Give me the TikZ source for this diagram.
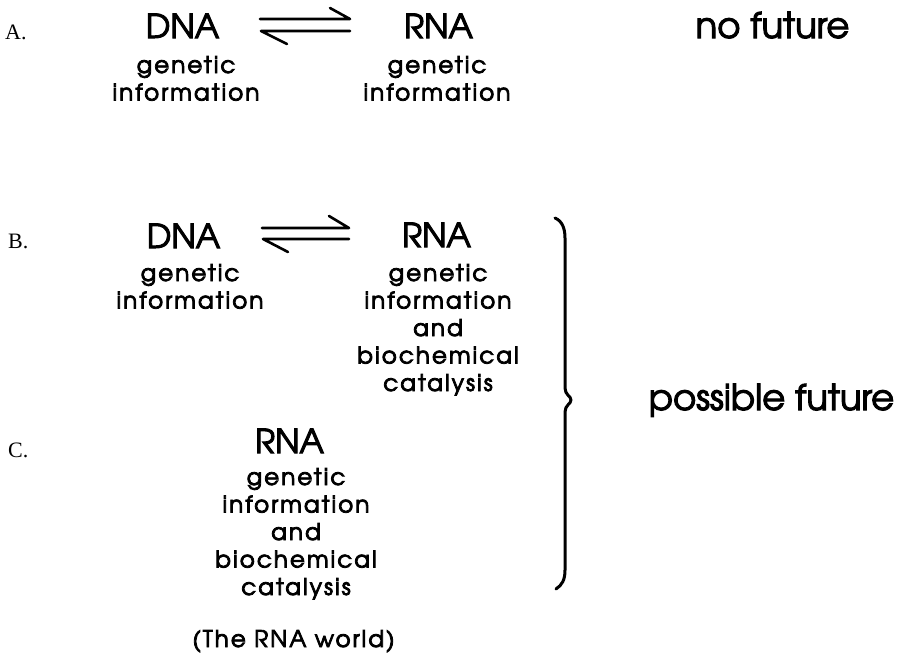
\documentclass[tikz,border=0pt]{standalone}
\usepackage{fontspec}
\setmainfont{texgyreadventor}[Extension=.otf, UprightFont=*-regular, BoldFont=*-bold]
\newfontfamily\seriflabel{Liberation Serif}
\begin{document}
\begin{tikzpicture}[x=1pt,y=-1pt,
  big/.style={font=\fontsize{33}{33}\selectfont\addfontfeature{FakeBold=3}, inner sep=0pt, anchor=base},
  desc/.style={font=\fontsize{23}{27.5}\selectfont\addfontfeature{LetterSpace=9,FakeBold=3.5}, align=center, inner sep=0pt, anchor=base},
  rowlabel/.style={font=\seriflabel\fontsize{22}{22}\selectfont, inner sep=0pt, anchor=base west},
  side/.style={font=\fontsize{35.5}{35.5}\selectfont\addfontfeature{FakeBold=3}, inner sep=0pt, anchor=base},
  eq/.style={line width=2.6pt, line cap=round, line join=round},
  bracestyle/.style={line width=3pt, line cap=round, line join=round}]
\useasboundingbox[fill=white] (0,0) rectangle (904,662);
% ---- A ----
\node[rowlabel] (labA) at (5,39) {A.};
\node[big] (dnaA) at (182.5,38) {DNA};
\node[desc] (dnaAd) at (186,100.5) {genetic\\information};
\node[big] (rnaA) at (438.5,38) {RNA};
\node[desc] (rnaAd) at (437,100.5) {genetic\\information};
\node[side] (nofut) at (772.5,38) {no future};
\coordinate (aTl) at (260,19);
\coordinate (aTr) at (350,19);
\coordinate (aBl) at (261,31);
\coordinate (aBr) at (350,31);
\draw[eq] (aTl) -- (aTr) -- ++(-20,-11);
\draw[eq] (aBr) -- (aBl) -- ++(26,13);
% ---- B ----
\node[rowlabel] (labB) at (8,248) {B.};
\node[big] (dnaB) at (183.5,248) {DNA};
\node[desc] (dnaBd) at (190,308.5) {genetic\\information};
\node[big] (rnaB) at (436.5,247) {RNA};
\node[desc] (rnaBd) at (438,391) {genetic\\information\\and\\biochemical\\catalysis};
\coordinate (bTl) at (262,228);
\coordinate (bTr) at (349,228);
\coordinate (bBl) at (263,239);
\coordinate (bBr) at (349,239);
\draw[eq] (bTl) -- (bTr) -- ++(-20,-12);
\draw[eq] (bBr) -- (bBl) -- ++(25,13);
% ---- C ----
\node[rowlabel] (labC) at (8,457) {C.};
\node[big] (rnaC) at (289.5,453) {RNA};
\node[desc] (rnaCd) at (296,595) {genetic\\information\\and\\biochemical\\catalysis};
\node[desc] (world) at (293.5,647) {(The RNA world)};
% ---- brace ----
\draw[bracestyle] (555,218) .. controls (562,221) and (565,228) .. (565,238)
  -- (565,388) .. controls (565,395) and (571,396) .. (571,400)
  .. controls (571,404) and (565,405) .. (565,412)
  -- (565,570) .. controls (565,580) and (562,585) .. (556,589);
\node[side] (possfut) at (771.5,410) {possible future};
\end{tikzpicture}
\end{document}
